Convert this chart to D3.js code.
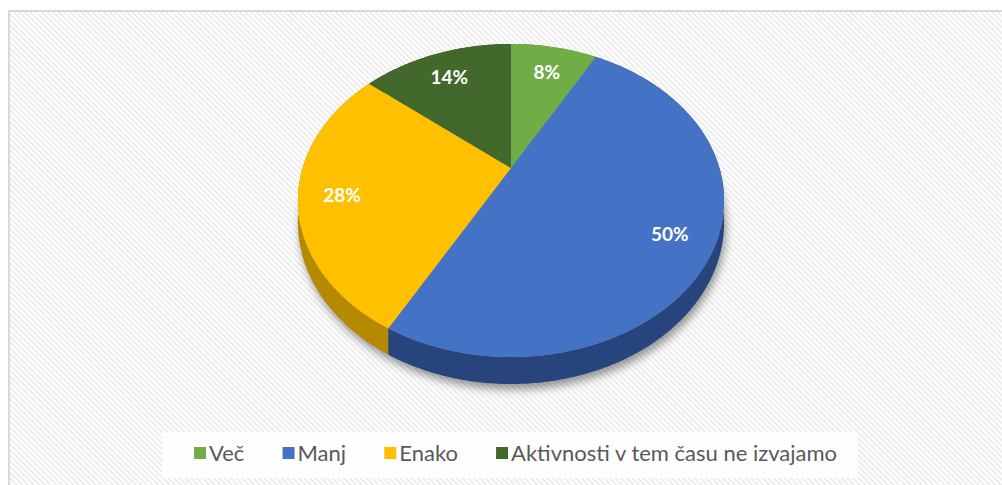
<!DOCTYPE html>
<html lang="sl">
<head>
<meta charset="UTF-8">
<title>Pie 3D</title>
<script src="https://d3js.org/d3.v7.min.js"></script>
<style>
  body { margin: 0; background: #fff; }
  .lbl { font-family: Lato, "Open Sans", sans-serif; font-weight: bold; fill: #fff; }
  .leg { font-family: Lato, "Open Sans", sans-serif; fill: #595959; }
</style>
</head>
<body>
<script>
// data
var names = ["Več", "Manj", "Enako", "Aktivnosti v tem času ne izvajamo"];
var values = [8, 50, 28, 14];
var topColors = ["#70ad47", "#4472c4", "#ffc000", "#43682b"];
var sideColors = ["#4e7a32", "#27457c", "#b58900", "#2f4a1e"];

var width = 1002, height = 485;

var svg = d3.select("body").append("svg")
    .attr("width", width)
    .attr("height", height);

var defs = svg.append("defs");

// diagonal hatch background
var pat = defs.append("pattern")
    .attr("id", "hatch")
    .attr("width", 4).attr("height", 4)
    .attr("patternUnits", "userSpaceOnUse")
    .attr("patternTransform", "rotate(-45)");
pat.append("rect").attr("width", 4).attr("height", 4).attr("fill", "#ffffff");
pat.append("line").attr("x1", 1).attr("y1", 0).attr("x2", 1).attr("y2", 4)
    .attr("stroke", "#ebebeb").attr("stroke-width", 1.8);

var blur = defs.append("filter").attr("id", "shadow")
    .attr("x", "-20%").attr("y", "-20%").attr("width", "140%").attr("height", "140%");
blur.append("feGaussianBlur").attr("stdDeviation", 4);

svg.append("rect")
    .attr("x", 9).attr("y", 11)
    .attr("width", 1010).attr("height", 500)
    .attr("fill", "url(#hatch)")
    .attr("stroke", "#d9d9d9")
    .attr("stroke-width", 2);

// perspective pie geometry
var cx = 511, cy = 168;
var R = 208.4, S = 149.75, k = 0.2077, depth = 21.4;

function proj(f, a, dz) {
    var u = f * Math.sin(a), v = f * Math.cos(a);
    var w = 1 + k * v;
    return [cx + R * u / w, cy + (-S * v + dz) / w];
}

var pie = d3.pie().sort(null).startAngle(0).endAngle(2 * Math.PI);
var arcs = pie(values);
var line = d3.line().curve(d3.curveLinearClosed);

function arcPoints(a0, a1, dz) {
    var n = Math.max(2, Math.ceil((a1 - a0) / 0.01));
    return d3.range(n + 1).map(function(i) {
        return proj(1, a0 + (a1 - a0) * i / n, dz);
    });
}

// shadow under pie
var g = svg.append("g");
g.append("path")
    .attr("d", line(arcPoints(0, 2 * Math.PI, depth + 2).map(function(p) { return [p[0] + 2, p[1] + 3]; })))
    .attr("fill", "rgba(0,0,0,0.4)")
    .attr("filter", "url(#shadow)");

// sides (back to front)
var order = arcs.map(function(d, i) { return i; })
    .sort(function(a, b) {
        return Math.cos((arcs[b].startAngle + arcs[b].endAngle) / 2) < Math.cos((arcs[a].startAngle + arcs[a].endAngle) / 2) ? -1 : 1;
    });

g.selectAll(".side")
    .data(order)
    .enter().append("path")
    .attr("class", "side")
    .attr("d", function(i) {
        var d = arcs[i];
        var top = arcPoints(d.startAngle, d.endAngle, 0);
        var bot = arcPoints(d.startAngle, d.endAngle, depth).reverse();
        return line(top.concat(bot));
    })
    .attr("fill", function(i) { return sideColors[i]; });

// top faces
g.selectAll(".slice")
    .data(arcs)
    .enter().append("path")
    .attr("class", "slice")
    .attr("d", function(d) {
        return line([[cx, cy]].concat(arcPoints(d.startAngle, d.endAngle, 0)));
    })
    .attr("fill", function(d, i) { return topColors[i]; });

// data labels
g.selectAll(".lbl")
    .data(arcs)
    .enter().append("text")
    .attr("class", "lbl")
    .attr("font-size", 19)
    .attr("text-anchor", "middle")
    .attr("dominant-baseline", "central")
    .attr("x", function(d) { return proj(0.8, (d.startAngle + d.endAngle) / 2, 0)[0]; })
    .attr("y", function(d) { return proj(0.8, (d.startAngle + d.endAngle) / 2, 0)[1] + 3; })
    .text(function(d) { return d.data + "%"; });

// legend
svg.append("rect")
    .attr("x", 162).attr("y", 432)
    .attr("width", 696).attr("height", 46)
    .attr("fill", "#ffffff").attr("fill-opacity", 0.85);

var leg = svg.append("g");
var items = leg.selectAll(".item")
    .data(names)
    .enter().append("g")
    .attr("class", "item");

items.append("rect")
    .attr("width", 12).attr("height", 12)
    .attr("y", 447)
    .attr("fill", function(d, i) { return topColors[i]; });

items.append("text")
    .attr("class", "leg")
    .attr("font-size", 22)
    .attr("y", 461)
    .attr("x", 15)
    .text(function(d) { return d; });

// spread items between legend ends
var x0 = 194, x1 = 837, pos = [], widths = [];
items.each(function(d) {
    widths.push(15 + d3.select(this).select("text").node().getComputedTextLength());
});
var gap = (x1 - x0 - d3.sum(widths)) / (names.length - 1);
var acc = x0;
widths.forEach(function(w) { pos.push(acc); acc += w + gap; });
items.attr("transform", function(d, i) { return "translate(" + pos[i] + ",0)"; });
</script>
</body>
</html>
